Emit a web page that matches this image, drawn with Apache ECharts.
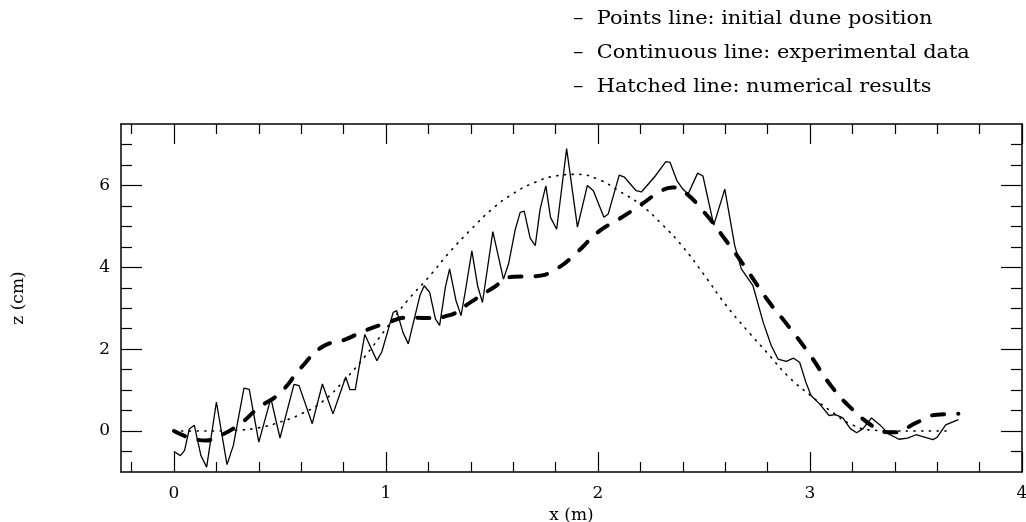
<!DOCTYPE html>
<html>
<head>
<meta charset="utf-8">
<script src="https://cdn.jsdelivr.net/npm/echarts@6/dist/echarts.min.js"></script>
<style>html,body{margin:0;padding:0;background:#fff}#c{width:1026px;height:522px}</style>
</head>
<body>
<div id="c"></div>
<script>
// ---- data ----
var initialDune = [[0,0],[0.1,0],[0.2,0],[0.3,0.02],[0.4,0.08],[0.5,0.22],[0.6,0.42],[0.7,0.72],[0.8,1.22],[0.9,1.82],[1.0,2.5],[1.1,3.18],[1.2,3.75],[1.3,4.37],[1.4,4.92],[1.5,5.42],[1.6,5.8],[1.7,6.07],[1.8,6.23],[1.9,6.27],[2.0,6.15],[2.1,5.86],[2.2,5.53],[2.3,5.06],[2.4,4.5],[2.5,3.82],[2.6,3.1],[2.7,2.48],[2.8,1.9],[2.9,1.32],[3.0,0.88],[3.1,0.48],[3.2,0.15],[3.3,0.02],[3.4,0],[3.5,0],[3.6,0],[3.67,0]];

var experimental = [[0.0,-0.5],[0.03,-0.6],[0.05,-0.47],[0.072,0.05],[0.096,0.14],[0.127,-0.6],[0.154,-0.88],[0.20,0.71],[0.25,-0.82],[0.28,-0.35],[0.33,1.05],[0.355,1.02],[0.40,-0.27],[0.457,0.8],[0.50,-0.17],[0.566,1.14],[0.59,1.11],[0.652,0.18],[0.70,1.15],[0.75,0.42],[0.81,1.32],[0.83,1.01],[0.855,1.01],[0.90,2.36],[0.957,1.72],[0.98,1.93],[1.034,2.90],[1.05,2.94],[1.08,2.41],[1.105,2.13],[1.16,3.31],[1.18,3.55],[1.206,3.39],[1.233,2.74],[1.253,2.58],[1.28,3.51],[1.30,3.96],[1.33,3.19],[1.354,2.82],[1.376,3.47],[1.405,4.40],[1.432,3.55],[1.455,3.14],[1.504,4.87],[1.554,3.71],[1.578,4.08],[1.61,4.93],[1.633,5.34],[1.652,5.37],[1.68,4.71],[1.704,4.53],[1.727,5.42],[1.754,5.99],[1.776,5.22],[1.805,4.93],[1.852,6.90],[1.903,4.98],[1.95,6.0],[1.978,5.87],[2.028,5.22],[2.048,5.3],[2.10,6.25],[2.125,6.2],[2.18,5.87],[2.205,5.84],[2.27,6.23],[2.32,6.58],[2.34,6.56],[2.373,6.11],[2.40,5.91],[2.425,5.79],[2.47,6.3],[2.495,6.23],[2.546,5.03],[2.598,5.91],[2.645,4.53],[2.676,3.96],[2.731,3.55],[2.779,2.66],[2.817,2.09],[2.849,1.76],[2.888,1.70],[2.922,1.78],[2.951,1.68],[2.98,1.2],[3.005,0.87],[3.044,0.67],[3.09,0.38],[3.12,0.40],[3.155,0.32],[3.19,0.06],[3.22,-0.04],[3.25,0.06],[3.29,0.32],[3.33,0.15],[3.37,-0.07],[3.42,-0.2],[3.46,-0.17],[3.50,-0.09],[3.54,-0.15],[3.58,-0.21],[3.60,-0.15],[3.64,0.15],[3.70,0.28]];

var numerical = [[0,0],[0.05,-0.12],[0.1,-0.2],[0.15,-0.23],[0.2,-0.15],[0.3,0.13],[0.4,0.57],[0.5,0.93],[0.6,1.55],[0.7,2.06],[0.8,2.22],[0.9,2.45],[1.0,2.63],[1.1,2.77],[1.2,2.76],[1.3,2.83],[1.4,3.15],[1.5,3.48],[1.6,3.77],[1.7,3.78],[1.8,3.95],[1.9,4.36],[2.0,4.86],[2.1,5.18],[2.2,5.52],[2.3,5.87],[2.35,5.95],[2.4,5.87],[2.5,5.35],[2.6,4.68],[2.7,3.96],[2.8,3.2],[2.9,2.55],[3.0,1.86],[3.1,1.1],[3.2,0.53],[3.3,0.1],[3.35,-0.02],[3.4,-0.03],[3.5,0.2],[3.6,0.4],[3.7,0.42]];

var xMajorTicks = [0, 1, 2, 3, 4];
var xMinorTicks = [-0.2, 0.2, 0.4, 0.6, 0.8, 1.2, 1.4, 1.6, 1.8, 2.2, 2.4, 2.6, 2.8, 3.2, 3.4, 3.6, 3.8];
var yMajorTicks = [0, 2, 4, 6];
var yMinorTicks = [-0.5, 0.5, 1, 1.5, 2.5, 3, 3.5, 4.5, 5, 5.5, 6.5, 7];
var legendLines = ['–  Points line: initial dune position', '–  Continuous line: experimental data', '–  Hatched line: numerical results'];

// ---- chart ----
var FONT = '"DejaVu Serif", "Liberation Serif", serif';
var XMIN = -0.25, XMAX = 4, YMIN = -1, YMAX = 7.5;

function xAx(pos, ticks, len, labels, line) {
  return {
    type: 'value', position: pos, min: XMIN, max: XMAX,
    axisLine: {show: line, onZero: false, lineStyle: {color: '#000', width: 1.5}},
    axisTick: {show: true, inside: true, length: len, customValues: ticks, lineStyle: {color: '#000', width: 1.2}},
    axisLabel: labels ? {show: true, customValues: ticks, color: '#000', fontFamily: FONT, fontSize: 17, margin: 13} : {show: false},
    splitLine: {show: false}
  };
}
function yAx(pos, ticks, len, labels, line) {
  return {
    type: 'value', position: pos, min: YMIN, max: YMAX,
    axisLine: {show: line, onZero: false, lineStyle: {color: '#000', width: 1.5}},
    axisTick: {show: true, inside: true, length: len, customValues: ticks, lineStyle: {color: '#000', width: 1.2}},
    axisLabel: labels ? {show: true, customValues: ticks, color: '#000', fontFamily: FONT, fontSize: 17, margin: 11} : {show: false},
    splitLine: {show: false}
  };
}

var xAxes = [xAx('bottom', xMajorTicks, 20, true, true), xAx('bottom', xMinorTicks, 10, false, false),
             xAx('top', xMajorTicks, 20, false, true), xAx('top', xMinorTicks, 10, false, false)];
xAxes[0].name = 'x (m)';
xAxes[0].nameLocation = 'middle';
xAxes[0].nameGap = 31;
xAxes[0].nameTextStyle = {color: '#000', fontFamily: FONT, fontSize: 17};

var yAxes = [yAx('left', yMajorTicks, 21, true, true), yAx('left', yMinorTicks, 11, false, false),
             yAx('right', yMajorTicks, 21, false, true), yAx('right', yMinorTicks, 11, false, false)];
yAxes[0].name = 'z (cm)';
yAxes[0].nameLocation = 'middle';
yAxes[0].nameGap = 94;
yAxes[0].nameRotate = 90;
yAxes[0].nameTextStyle = {color: '#000', fontFamily: FONT, fontSize: 17};

var graphics = legendLines.map(function (t, i) {
  return {type: 'text', x: 573, y: 10 + i * 34, scaleX: 1.16,
          style: {text: t, fill: '#000', font: '18px ' + FONT}};
});

var chart = echarts.init(document.getElementById('c'), null, {renderer: 'canvas'});
chart.setOption({
  animation: false,
  backgroundColor: '#fff',
  grid: {left: 121, top: 124, width: 901, height: 348, containLabel: false, outerBoundsMode: 'none'},
  xAxis: xAxes,
  yAxis: yAxes,
  graphic: graphics,
  series: [
    {name: 'Points line', type: 'line', data: initialDune, smooth: true, showSymbol: false,
     lineStyle: {color: '#000', width: 1.6, type: [1.2, 6.5], cap: 'round'}},
    {name: 'Continuous line', type: 'line', data: experimental, smooth: false, showSymbol: false,
     lineStyle: {color: '#000', width: 1.3}},
    {name: 'Hatched line', type: 'line', data: numerical, smooth: true, showSymbol: false,
     lineStyle: {color: '#000', width: 4, type: [12, 14], cap: 'round'}}
  ]
});
</script>
</body>
</html>
